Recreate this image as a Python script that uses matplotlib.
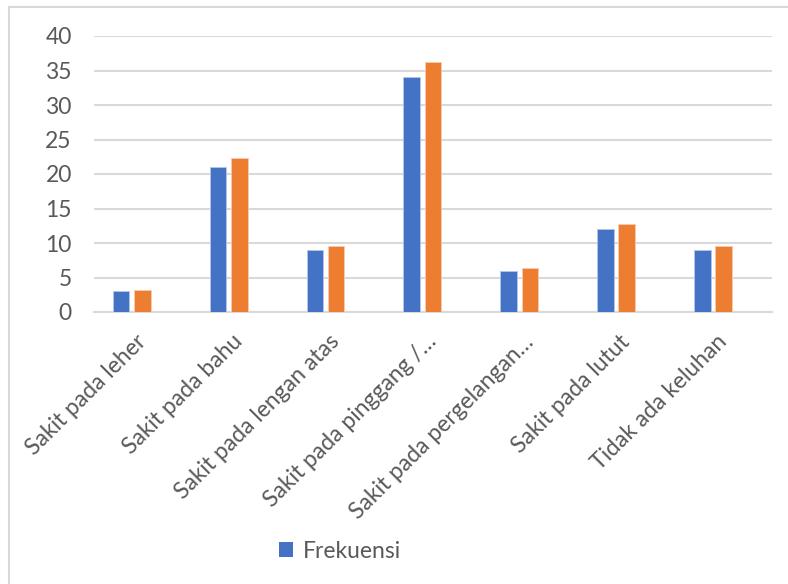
import matplotlib
matplotlib.use("Agg")
import matplotlib.pyplot as plt
from matplotlib.patches import Rectangle, Patch
import numpy as np

plt.rcParams['font.family'] = ['Lato', 'DejaVu Sans']

categories = [
    "Sakit pada leher",
    "Sakit pada bahu",
    "Sakit pada lengan atas",
    "Sakit pada pinggang /…",
    "Sakit pada pergelangan…",
    "Sakit pada lutut",
    "Tidak ada keluhan",
]
frekuensi = [3, 21, 9, 34, 6, 12, 9]
persentase = [3.19, 22.34, 9.57, 36.17, 6.38, 12.77, 9.57]
y_ticks = [0, 5, 10, 15, 20, 25, 30, 35, 40]

BLUE = "#4472C4"
ORANGE = "#ED7D31"
GRID = "#D9D9D9"
TEXT = "#595959"

W, H = 788, 584
fig = plt.figure(figsize=(W / 100, H / 100), dpi=100)
ax = fig.add_axes([94 / W, 1 - 312 / H, (772 - 94) / W, (312 - 36) / H])

x = np.arange(len(categories))
pitch = 0.22
bw = 0.172
ax.bar(x - pitch, frekuensi, width=bw, color=BLUE, edgecolor="#B4C7E7",
       linewidth=0.6, zorder=3)
ax.bar(x, persentase, width=bw, color=ORANGE, edgecolor="#F8CBAD",
       linewidth=0.6, zorder=3)

ax.set_xlim(-0.5, len(categories) - 0.5)
ax.set_ylim(0, 40)
ax.set_yticks(y_ticks)
ax.set_yticklabels([str(v) for v in y_ticks])
ax.yaxis.grid(True, color=GRID, linewidth=1.5, zorder=0)
ax.set_axisbelow(True)
for s in ["top", "right", "left"]:
    ax.spines[s].set_visible(False)
ax.spines["bottom"].set_color(GRID)
ax.spines["bottom"].set_linewidth(1.5)
ax.tick_params(axis="both", length=0, colors=TEXT, labelsize=16.5)
ax.tick_params(axis="y", pad=16)

ax.set_xticks(x)
ax.set_xticklabels(categories, rotation=45, ha="right", va="center",
                   rotation_mode="anchor", color=TEXT, fontsize=16.5)
ax.tick_params(axis="x", pad=19)

# chart-area border
fig.patches.append(Rectangle((8.5 / W, -0.05), 1.2, 1 - 6.5 / H + 0.05,
                             transform=fig.transFigure, fill=False,
                             edgecolor=GRID, linewidth=1.5))

fig.legend(handles=[Patch(facecolor=BLUE, label="Frekuensi")],
           loc="center", bbox_to_anchor=(340 / W, 1 - 551 / H),
           frameon=False, fontsize=16.5, labelcolor=TEXT,
           handlelength=0.6, handleheight=0.6, handletextpad=0.4)

fig.savefig("out.png", dpi=100)
